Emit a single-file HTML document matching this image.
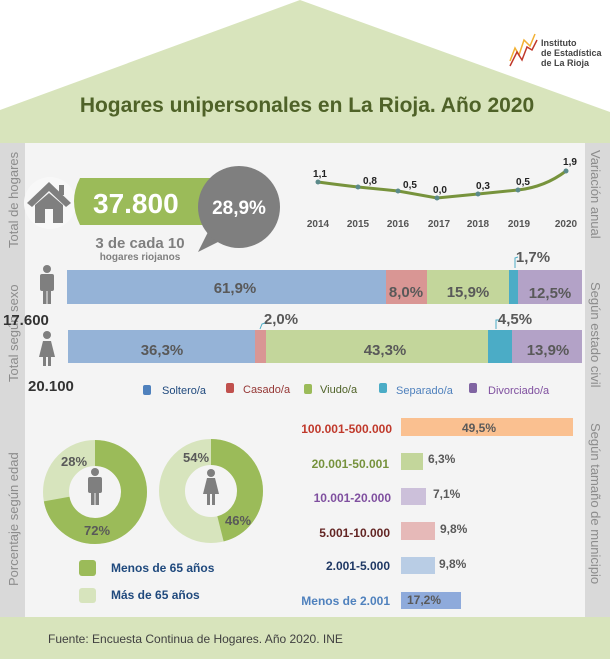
<!DOCTYPE html>
<html><head><meta charset="utf-8"><style>
body{margin:0;width:610px;height:659px;overflow:hidden;background:#fff;font-family:"Liberation Sans",sans-serif}
</style></head><body>
<svg width="610" height="659" xmlns="http://www.w3.org/2000/svg" font-family="Liberation Sans, sans-serif">
<polygon points="0,110 300,0 610,112 610,143 0,143" fill="#d8e4bc"/>
<rect x="505" y="0" width="105" height="72" fill="#fff"/>
<path d="M510,61 L515,48 L519,55 L524,40 L530,46 L535,34" stroke="#f2b134" stroke-width="1.5" fill="none"/>
<path d="M510,66 L517,52 L522,60 L527,47 L532,50 L537,40" stroke="#c0392b" stroke-width="1.5" fill="none"/>
<text x="541" y="46" font-size="9" font-weight="bold" fill="#444">Instituto</text>
<text x="541" y="56" font-size="9" font-weight="bold" fill="#444">de Estadística</text>
<text x="541" y="66" font-size="9" font-weight="bold" fill="#444">de La Rioja</text>
<text x="307" y="112" font-size="21" font-weight="bold" fill="#4f6228" text-anchor="middle">Hogares unipersonales en La Rioja. Año 2020</text>
<rect x="0" y="143" width="610" height="474" fill="#d9d9d9"/>
<rect x="25" y="143" width="560" height="474" fill="#f4f4f4"/>
<rect x="0" y="617" width="610" height="42" fill="#d8e4bc"/>
<text x="48" y="643" font-size="12" fill="#404040">Fuente: Encuesta Continua de Hogares. Año 2020. INE</text>
<g font-size="13" fill="#8c8c8c">
<text transform="translate(18,248) rotate(-90)">Total de hogares</text>
<text transform="translate(18,382) rotate(-90)">Total según sexo</text>
<text transform="translate(18,586) rotate(-90)">Porcentaje según edad</text>
<text transform="translate(591,150) rotate(90)">Variación anual</text>
<text transform="translate(591,282) rotate(90)">Según estado civil</text>
<text transform="translate(591,423) rotate(90)">Según tamaño de municipio</text>
</g>
<!-- house -->
<circle cx="50" cy="203" r="26" fill="#f8f8f8"/>
<polygon points="27,203 49,182 71,203 66,207 49,191 32,207" fill="#7f7f7f"/>
<polygon points="35,205 49,193 63,205 63,223 35,223" fill="#7f7f7f"/>
<rect x="59" y="185" width="5" height="10" fill="#7f7f7f"/>
<rect x="45" y="209" width="8" height="14" fill="#f8f8f8"/>
<path d="M80,178 L215,178 L215,225 L80,225 Q68,201 80,178Z" fill="#9bbb59"/>
<text x="93" y="213" font-size="28" font-weight="bold" fill="#fff">37.800</text>
<path d="M208,232 L198,252 L222,240Z" fill="#7f7f7f"/>
<circle cx="239" cy="207" r="41" fill="#7f7f7f"/>
<text x="239" y="214" font-size="19" font-weight="bold" fill="#fff" text-anchor="middle">28,9%</text>
<text x="140" y="248" font-size="15" font-weight="bold" fill="#7f7f7f" text-anchor="middle">3 de cada 10</text>
<text x="140" y="260" font-size="10" font-weight="bold" fill="#7f7f7f" text-anchor="middle">hogares riojanos</text>
<!-- line chart -->
<path d="M318,182 Q340,185 358,187 L398,191 L437,198 L478,194 L518,190 Q545,187 566,171" stroke="#77933c" stroke-width="3" fill="none"/>
<g fill="#5b8a8a"><circle cx="318" cy="182" r="2.5"/><circle cx="358" cy="187" r="2.5"/><circle cx="398" cy="191" r="2.5"/><circle cx="437" cy="198" r="2.5"/><circle cx="478" cy="194" r="2.5"/><circle cx="518" cy="190" r="2.5"/><circle cx="566" cy="171" r="2.5"/></g>
<g font-size="10" font-weight="bold" fill="#222" text-anchor="middle">
<text x="320" y="177">1,1</text><text x="370" y="184">0,8</text><text x="410" y="188">0,5</text><text x="440" y="193">0,0</text><text x="483" y="189">0,3</text><text x="523" y="185">0,5</text><text x="570" y="165">1,9</text></g>
<g font-size="10" fill="#555" text-anchor="middle" font-weight="bold">
<text x="318" y="227">2014</text><text x="358" y="227">2015</text><text x="398" y="227">2016</text><text x="439" y="227">2017</text><text x="478" y="227">2018</text><text x="519" y="227">2019</text><text x="566" y="227">2020</text></g>
<!-- people -->
<g fill="#7f7f7f"><circle cx="47" cy="269" r="4"/><rect x="40" y="274" width="14" height="17" rx="2"/><rect x="43" y="288" width="3.5" height="16"/><rect x="47.5" y="288" width="3.5" height="16"/>
<circle cx="47" cy="335" r="4"/><polygon points="43,341 51,341 55,357 39,357"/><rect x="43" y="356" width="3" height="10"/><rect x="48" y="356" width="3" height="10"/></g>
<text x="3" y="325" font-size="15" font-weight="bold" fill="#333">17.600</text>
<text x="28" y="391" font-size="15" font-weight="bold" fill="#333">20.100</text>
<!-- bars male -->
<rect x="67" y="270" width="319" height="34" fill="#95b3d7"/>
<rect x="386" y="270" width="41" height="34" fill="#d99694"/>
<rect x="427" y="270" width="82" height="34" fill="#c3d69b"/>
<rect x="509" y="270" width="9" height="34" fill="#4bacc6"/>
<rect x="518" y="270" width="64" height="34" fill="#b3a2c7"/>
<!-- bars female -->
<rect x="68" y="330" width="187" height="33" fill="#95b3d7"/>
<rect x="255" y="330" width="11" height="33" fill="#d99694"/>
<rect x="266" y="330" width="222" height="33" fill="#c3d69b"/>
<rect x="488" y="330" width="24" height="33" fill="#4bacc6"/>
<rect x="512" y="330" width="70" height="33" fill="#b3a2c7"/>
<g font-size="15" font-weight="bold" fill="#595959" text-anchor="middle">
<text x="235" y="293">61,9%</text><text x="406" y="297">8,0%</text><text x="468" y="297">15,9%</text><text x="550" y="298">12,5%</text>
<text x="533" y="262">1,7%</text><text x="281" y="324">2,0%</text><text x="515" y="324">4,5%</text>
<text x="162" y="355">36,3%</text><text x="385" y="355">43,3%</text><text x="548" y="355">13,9%</text></g>
<path d="M515,268 L515,258 L518,257" stroke="#4bacc6" fill="none"/>
<path d="M260,329 L262,324 L265,323" stroke="#4bacc6" fill="none"/>
<path d="M496,329 L496,320 L499,320" stroke="#4bacc6" fill="none"/>
<!-- legend -->
<g font-size="11">
<rect x="143" y="385" width="8" height="10" rx="2" fill="#4f81bd"/><text x="162" y="394" fill="#1f497d">Soltero/a</text>
<rect x="226" y="383" width="8" height="10" rx="2" fill="#c0504d"/><text x="243" y="393" fill="#953735">Casado/a</text>
<rect x="304" y="384" width="8" height="10" rx="2" fill="#9bbb59"/><text x="320" y="393" fill="#4f6228">Viudo/a</text>
<rect x="379" y="383" width="8" height="10" rx="2" fill="#4bacc6"/><text x="396" y="394" fill="#4f81bd">Separado/a</text>
<rect x="469" y="383" width="8" height="10" rx="2" fill="#8064a2"/><text x="488" y="394" fill="#7f4f9f">Divorciado/a</text></g>
<!-- donuts -->
<circle cx="95" cy="492" r="39" fill="none" stroke="#d7e4bd" stroke-width="26"/>
<circle cx="95" cy="492" r="39" fill="none" stroke="#9bbb59" stroke-width="26" stroke-dasharray="176.4 68.6" transform="rotate(-90 95 492)"/>
<circle cx="211" cy="491" r="39" fill="none" stroke="#d7e4bd" stroke-width="26"/>
<circle cx="211" cy="491" r="39" fill="none" stroke="#9bbb59" stroke-width="26" stroke-dasharray="112.7 132.3" transform="rotate(-90 211 491)"/>
<g fill="#7f7f7f"><circle cx="95" cy="472" r="4"/><rect x="88" y="477" width="14" height="16" rx="2"/><rect x="91" y="490" width="3.5" height="15"/><rect x="95.5" y="490" width="3.5" height="15"/>
<circle cx="211" cy="473" r="4"/><polygon points="207,478 215,478 219,494 203,494"/><rect x="207" y="493" width="3" height="12"/><rect x="212" y="493" width="3" height="12"/></g>
<g font-size="13" font-weight="bold" fill="#595959" text-anchor="middle">
<text x="74" y="466">28%</text><text x="97" y="535">72%</text><text x="196" y="462">54%</text><text x="238" y="525">46%</text></g>
<rect x="79" y="560" width="17" height="16" rx="3" fill="#9bbb59"/>
<text x="111" y="572" font-size="12" font-weight="bold" fill="#1f497d">Menos de 65 años</text>
<rect x="79" y="588" width="17" height="15" rx="3" fill="#d7e4bd"/>
<text x="111" y="599" font-size="12" font-weight="bold" fill="#1f497d">Más de 65 años</text>
<!-- municipality -->
<g font-size="12" font-weight="bold" text-anchor="end">
<text x="392" y="433" fill="#c0392b">100.001-500.000</text>
<text x="389" y="468" fill="#76923c">20.001-50.001</text>
<text x="391" y="502" fill="#7f4f9f">10.001-20.000</text>
<text x="390" y="537" fill="#632523">5.001-10.000</text>
<text x="390" y="570" fill="#1f3864">2.001-5.000</text>
<text x="390" y="605" fill="#4f81bd">Menos de 2.001</text></g>
<rect x="401" y="418" width="172" height="18" fill="#fac090"/>
<rect x="401" y="453" width="22" height="17" fill="#c3d69b"/>
<rect x="401" y="488" width="25" height="17" fill="#ccc0da"/>
<rect x="401" y="522" width="34" height="18" fill="#e6b9b8"/>
<rect x="401" y="557" width="34" height="17" fill="#b9cde5"/>
<rect x="401" y="592" width="60" height="17" fill="#8eaadb"/>
<g font-size="12" font-weight="bold" fill="#595959">
<text x="462" y="432">49,5%</text><text x="428" y="463">6,3%</text><text x="433" y="498">7,1%</text><text x="440" y="533">9,8%</text><text x="439" y="568">9,8%</text><text x="407" y="604">17,2%</text></g>
</svg>
</body></html>
